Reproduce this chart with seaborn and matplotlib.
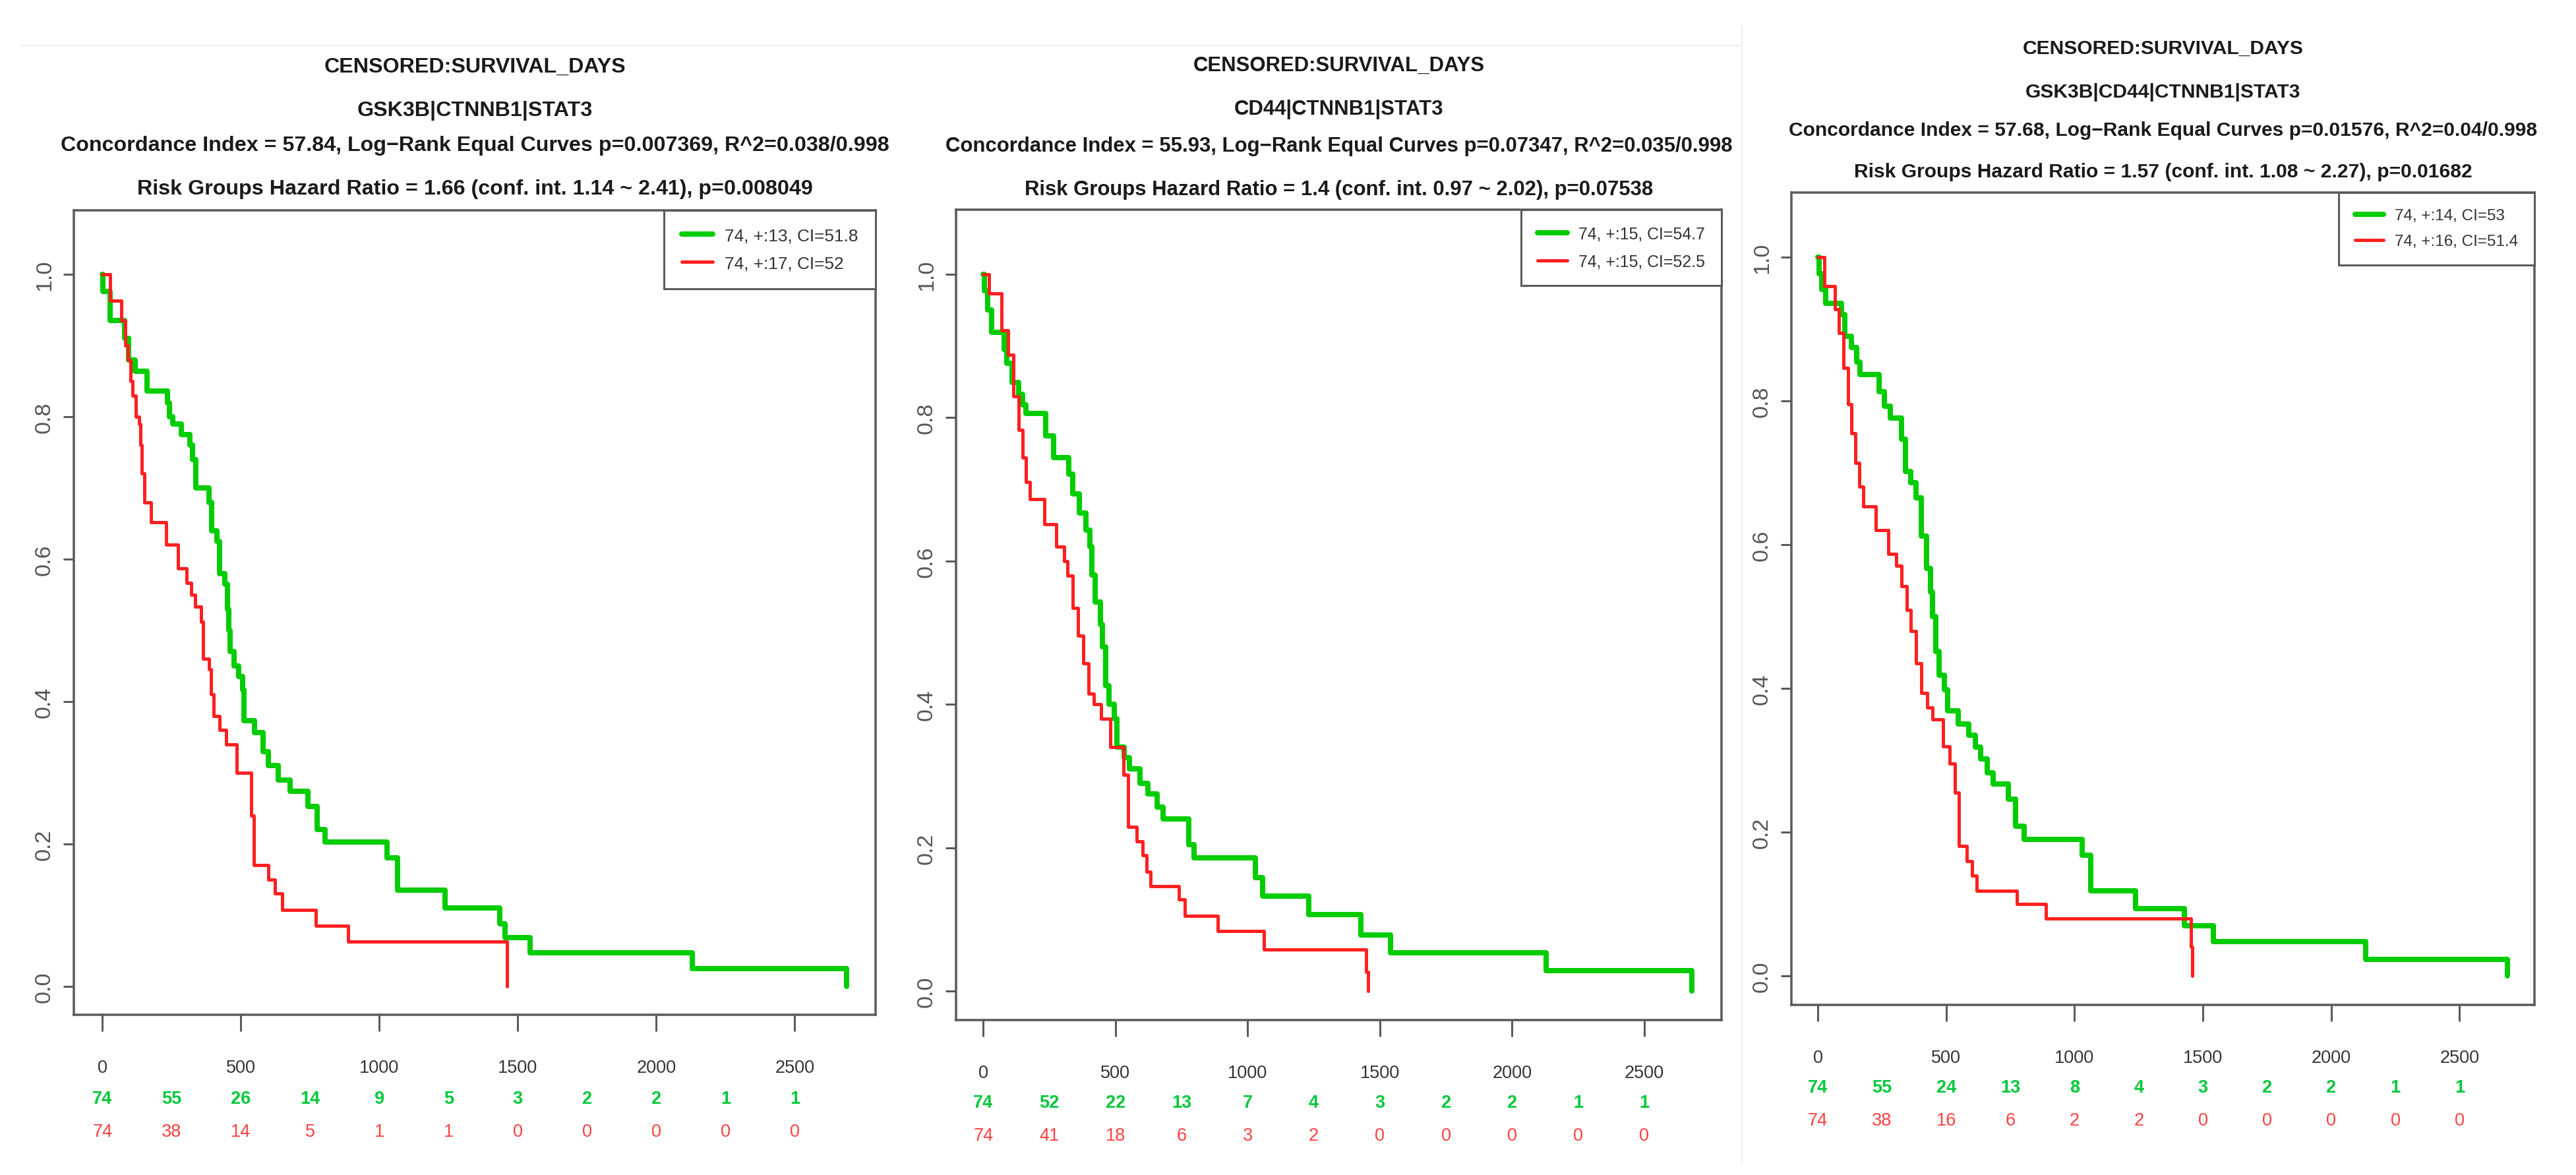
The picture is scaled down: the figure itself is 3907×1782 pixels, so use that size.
import numpy as np
import pandas as pd
import seaborn as sns
import matplotlib.pyplot as plt
from matplotlib.lines import Line2D
from matplotlib.transforms import blended_transform_factory

sns.set_style("white")
FONT = ['Liberation Sans', 'DejaVu Sans']
plt.rcParams['font.family'] = FONT

W, H = 3907, 1783
DPI = 100
PX = 72 / DPI  # points per pixel

# ---------------- data ----------------
title_top = "CENSORED:SURVIVAL_DAYS"
genes = ["GSK3B|CTNNB1|STAT3", "CD44|CTNNB1|STAT3", "GSK3B|CD44|CTNNB1|STAT3"]
concordance = [
    "Concordance Index = 57.84, Log\u2212Rank Equal Curves p=0.007369, R^2=0.038/0.998",
    "Concordance Index = 55.93, Log\u2212Rank Equal Curves p=0.07347, R^2=0.035/0.998",
    "Concordance Index = 57.68, Log\u2212Rank Equal Curves p=0.01576, R^2=0.04/0.998",
]
hazard = [
    "Risk Groups Hazard Ratio = 1.66 (conf. int. 1.14 ~ 2.41), p=0.008049",
    "Risk Groups Hazard Ratio = 1.4 (conf. int. 0.97 ~ 2.02), p=0.07538",
    "Risk Groups Hazard Ratio = 1.57 (conf. int. 1.08 ~ 2.27), p=0.01682",
]
legend_green = ["74, +:13, CI=51.8", "74, +:15, CI=54.7", "74, +:14, CI=53"]
legend_red = ["74, +:17, CI=52", "74, +:15, CI=52.5", "74, +:16, CI=51.4"]

risk_times = [0, 250, 500, 750, 1000, 1250, 1500, 1750, 2000, 2250, 2500]
risk_green = [
    [74, 55, 26, 14, 9, 5, 3, 2, 2, 1, 1],
    [74, 52, 22, 13, 7, 4, 3, 2, 2, 1, 1],
    [74, 55, 24, 13, 8, 4, 3, 2, 2, 1, 1],
]
risk_red = [
    [74, 38, 14, 5, 1, 1, 0, 0, 0, 0, 0],
    [74, 41, 18, 6, 3, 2, 0, 0, 0, 0, 0],
    [74, 38, 16, 6, 2, 2, 0, 0, 0, 0, 0],
]

# Kaplan-Meier curves (time in days, survival probability)
green_t1 = [0, 2, 28, 80, 95, 119, 161, 236, 243, 254, 284, 315, 326, 337, 385, 395, 413, 422,
            443, 452, 456, 462, 475, 491, 507, 512, 549, 581, 600, 634, 679, 743, 775, 804,
            1028, 1065, 1237, 1434, 1455, 1545, 2130, 2688]
green_s1 = [1.0, 0.976, 0.935, 0.91, 0.88, 0.864, 0.836, 0.82, 0.80, 0.79, 0.775, 0.76, 0.74,
            0.70, 0.68, 0.64, 0.625, 0.58, 0.565, 0.53, 0.50, 0.47, 0.45, 0.435, 0.417, 0.373,
            0.356, 0.33, 0.31, 0.29, 0.274, 0.253, 0.22, 0.203, 0.18, 0.135, 0.110, 0.088,
            0.068, 0.047, 0.025, 0.0]
red_t1 = [0, 28, 69, 82, 92, 101, 109, 120, 133, 137, 143, 151, 175, 230, 273, 305, 321, 335,
          356, 363, 385, 392, 401, 422, 448, 486, 537, 547, 600, 622, 650, 770, 887, 1460]
red_s1 = [1.0, 0.963, 0.935, 0.90, 0.88, 0.85, 0.83, 0.80, 0.79, 0.76, 0.72, 0.68, 0.652, 0.62,
          0.587, 0.567, 0.55, 0.533, 0.512, 0.46, 0.445, 0.41, 0.38, 0.36, 0.34, 0.30, 0.24,
          0.17, 0.15, 0.13, 0.107, 0.085, 0.063, 0.0]

green_t2 = [0, 3, 16, 31, 78, 90, 110, 133, 149, 162, 235, 266, 323, 338, 364, 387, 403, 411,
            422, 442, 450, 462, 475, 495, 505, 534, 554, 593, 622, 657, 681, 778, 798, 1029,
            1056, 1232, 1428, 1541, 2128, 2680]
green_s2 = [1.0, 0.977, 0.95, 0.919, 0.895, 0.876, 0.849, 0.833, 0.818, 0.806, 0.775, 0.744,
            0.721, 0.694, 0.667, 0.643, 0.62, 0.581, 0.543, 0.512, 0.48, 0.426, 0.40, 0.38,
            0.341, 0.326, 0.31, 0.29, 0.275, 0.257, 0.24, 0.205, 0.186, 0.159, 0.133, 0.107,
            0.079, 0.054, 0.029, 0.0]
red_t2 = [0, 21, 70, 94, 113, 133, 149, 162, 176, 231, 276, 305, 319, 338, 358, 378, 397, 417,
          446, 481, 530, 548, 579, 602, 618, 632, 739, 763, 886, 1062, 1447, 1455]
red_s2 = [1.0, 0.973, 0.922, 0.888, 0.83, 0.783, 0.744, 0.71, 0.686, 0.651, 0.62, 0.60, 0.58,
          0.535, 0.496, 0.457, 0.415, 0.40, 0.38, 0.341, 0.302, 0.229, 0.209, 0.19, 0.167,
          0.147, 0.128, 0.105, 0.084, 0.058, 0.027, 0.0]

green_t3 = [0, 4, 16, 30, 91, 105, 131, 151, 165, 238, 258, 282, 326, 342, 362, 382, 403, 423,
            439, 447, 459, 473, 493, 507, 548, 588, 614, 634, 660, 684, 741, 771, 805, 1031,
            1063, 1238, 1429, 1540, 2134, 2687]
green_s3 = [1.0, 0.977, 0.955, 0.936, 0.92, 0.89, 0.874, 0.854, 0.837, 0.813, 0.793, 0.776,
            0.747, 0.702, 0.686, 0.665, 0.612, 0.567, 0.534, 0.50, 0.452, 0.419, 0.398, 0.369,
            0.351, 0.335, 0.319, 0.302, 0.283, 0.267, 0.246, 0.209, 0.19, 0.168, 0.119, 0.094,
            0.07, 0.048, 0.023, 0.0]
red_t3 = [0, 26, 66, 81, 101, 117, 131, 145, 161, 177, 227, 274, 306, 326, 346, 362, 382, 403,
          427, 447, 489, 513, 533, 550, 580, 600, 620, 775, 888, 1453, 1459]
red_s3 = [1.0, 0.96, 0.928, 0.895, 0.846, 0.796, 0.755, 0.714, 0.681, 0.653, 0.62, 0.587,
          0.571, 0.542, 0.509, 0.48, 0.435, 0.394, 0.374, 0.357, 0.32, 0.296, 0.255, 0.181,
          0.16, 0.14, 0.119, 0.10, 0.08, 0.041, 0.0]

curves = [
    (green_t1, green_s1, red_t1, red_s1),
    (green_t2, green_s2, red_t2, red_s2),
    (green_t3, green_s3, red_t3, red_s3),
]

# ---------------- layout (pixels) ----------------
# box: left, right, top, bottom
boxes = [(112, 1328, 320, 1540), (1450, 2611, 319, 1548), (2717, 3844, 293, 1525)]
title_y = [(102, 168, 221, 287), (100, 166, 222, 288), (74, 140, 198, 261)]
title_size = [23.2, 22.4, 21.6]
legend_size = [18.9, 17.9, 17.5]
risk_y = [(1667, 1717), (1673, 1723), (1650, 1700)]

GREEN = '#00CC00'
RED = '#FF2020'
GREEN_TXT = '#00C83A'
RED_TXT = '#FF4040'
BOXC = '#5a5a5a'

fig = plt.figure(figsize=(W / DPI, H / DPI), dpi=DPI)
fig.patch.set_facecolor('white')

# faint edges of the pasted panels
fig.add_artist(Line2D([33 / W, 2640 / W], [1 - 70 / H, 1 - 70 / H], color='#ededed', lw=2 * PX))
fig.add_artist(Line2D([2642 / W, 2642 / W], [1 - 40 / H, 1 - 1765 / H], color='#ededed', lw=2 * PX))

for i in range(3):
    l, r, t, b = boxes[i]
    ax = fig.add_axes([l / W, 1 - b / H, (r - l) / W, (b - t) / H])
    gt, gs, rt, rs = curves[i]
    dfg = pd.DataFrame({'time': gt, 'surv': gs})
    dfr = pd.DataFrame({'time': rt, 'surv': rs})
    sns.lineplot(data=dfg, x='time', y='surv', ax=ax, color=GREEN, lw=8 * PX,
                 drawstyle='steps-post', estimator=None, sort=False, label=legend_green[i])
    sns.lineplot(data=dfr, x='time', y='surv', ax=ax, color=RED, lw=5 * PX,
                 drawstyle='steps-post', estimator=None, sort=False, label=legend_red[i])

    ax.set_xlim(-103, 2792)
    ax.set_ylim(-0.04, 1.09)
    ax.set_xlabel('')
    ax.set_ylabel('')
    for s in ax.spines.values():
        s.set_visible(True)
        s.set_color(BOXC)
        s.set_linewidth(3.5 * PX)

    ax.set_xticks([0, 500, 1000, 1500, 2000, 2500])
    ax.set_xticklabels(['0', '500', '1000', '1500', '2000', '2500'])
    ax.set_yticks([0, 0.2, 0.4, 0.6, 0.8, 1.0])
    ax.set_yticklabels(['0.0', '0.2', '0.4', '0.6', '0.8', '1.0'], rotation=90, va='center')
    ax.tick_params(axis='x', direction='out', length=25 * PX, width=3 * PX, color=BOXC,
                   pad=42 * PX, labelsize=19.5, labelcolor='#333333', bottom=True)
    ax.tick_params(axis='y', direction='out', length=16 * PX, width=3 * PX, color=BOXC,
                   pad=13 * PX, labelsize=24.5, labelcolor='#555555', left=True)

    leg = ax.legend(loc='upper right', bbox_to_anchor=(1, 1), borderaxespad=0,
                    frameon=True, fancybox=False, framealpha=1, edgecolor=BOXC,
                    fontsize=legend_size[i], handlelength=1.8, handletextpad=0.7,
                    borderpad=1.0, labelspacing=0.7)
    leg.get_frame().set_linewidth(3 * PX)
    for txt in leg.get_texts():
        txt.set_color('#333333')

    # numbers at risk
    tr = blended_transform_factory(ax.transData, fig.transFigure)
    gy, ry = risk_y[i]
    for k, tm in enumerate(risk_times):
        ax.text(tm, 1 - gy / H, str(risk_green[i][k]), transform=tr, ha='center', va='center',
                color=GREEN_TXT, fontsize=19.5, fontweight='bold', clip_on=False)
        ax.text(tm, 1 - ry / H, str(risk_red[i][k]), transform=tr, ha='center', va='center',
                color=RED_TXT, fontsize=19.5, clip_on=False)

    # title block
    cx = (l + r) / 2 / W
    lines = [title_top, genes[i], concordance[i], hazard[i]]
    for ln, yy in zip(lines, title_y[i]):
        fig.text(cx, 1 - yy / H, ln, ha='center', va='center', fontsize=title_size[i],
                 fontweight='bold', color='#1a1a1a')

fig.savefig('out.png', dpi=DPI, facecolor='white')
